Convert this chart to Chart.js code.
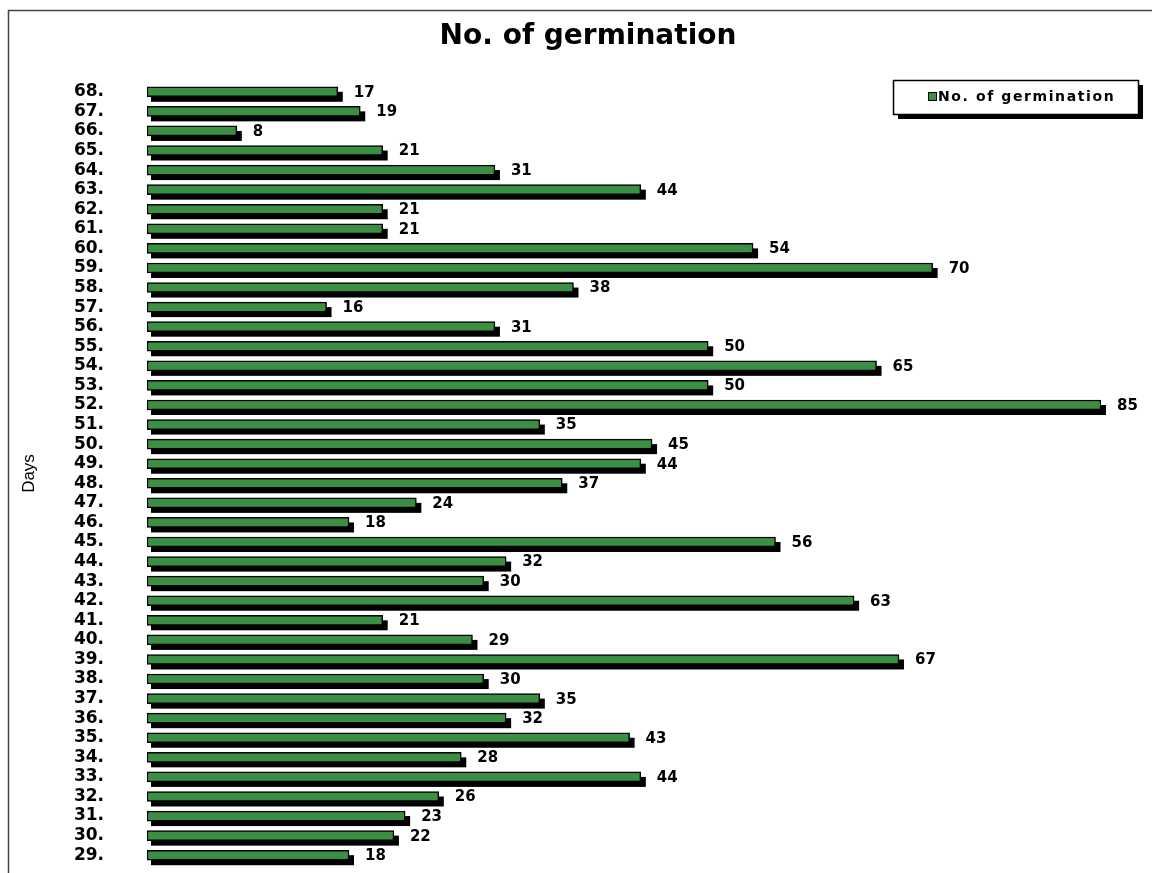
<!DOCTYPE html>
<html>
<head>
  <meta charset="utf-8" />
  <title>No. of germination</title>
  <style>
    body { margin: 0; background: #fff; }
    #wrap { width: 1152px; height: 873px; }
  </style>
</head>
<body>
  <div id="wrap"><canvas id="stage"></canvas></div>

  <script src="https://cdn.jsdelivr.net/npm/chart.js@4.4.0/dist/chart.umd.min.js"></script>
  <script>
    // days, top of the chart first
    const days = [68, 67, 66, 65, 64, 63, 62, 61, 60, 59, 58, 57, 56, 55, 54, 53, 52, 51, 50, 49,
                  48, 47, 46, 45, 44, 43, 42, 41, 40, 39, 38, 37, 36, 35, 34, 33, 32, 31, 30, 29];
    const germination = [17, 19, 8, 21, 31, 44, 21, 21, 54, 70, 38, 16, 31, 50, 65, 50, 85, 35, 45, 44,
                         37, 24, 18, 56, 32, 30, 63, 21, 29, 67, 30, 35, 32, 43, 28, 44, 26, 23, 22, 18];

    const green = '#3a8f42';
    const titleText = 'No. of germination';

    // black drop shadow under each bar, taken from the bar elements
    const shadowPlugin = {
      id: 'barShadow',
      beforeDatasetsDraw(chart) {
        const ctx = chart.ctx;
        ctx.save();
        ctx.fillStyle = '#000';
        chart.getDatasetMeta(0).data.forEach(bar => {
          const h = bar.height;
          ctx.fillRect(bar.base + 4, bar.y - h / 2 + 5, bar.x - bar.base + 1, h);
        });
        ctx.restore();
      }
    };

    // numbers at the end of the bars
    const valuePlugin = {
      id: 'values',
      afterDatasetsDraw(chart) {
        const ctx = chart.ctx;
        const meta = chart.getDatasetMeta(0);
        ctx.save();
        ctx.font = 'bold 15px "DejaVu Sans", sans-serif';
        ctx.fillStyle = '#000';
        ctx.textBaseline = 'middle';
        meta.data.forEach((bar, i) => {
          ctx.fillText(String(chart.data.datasets[0].data[i]), bar.x + 16, bar.y + 1);
        });
        ctx.restore();
      }
    };

    // outer frame, title and the boxed legend
    const framePlugin = {
      id: 'frame',
      beforeDraw(chart) {
        const ctx = chart.ctx;
        ctx.save();
        ctx.strokeStyle = '#444';
        ctx.lineWidth = 1.5;
        ctx.beginPath();
        ctx.moveTo(8.5, 873);
        ctx.lineTo(8.5, 10.5);
        ctx.lineTo(1152, 10.5);
        ctx.stroke();
        ctx.fillStyle = '#000';
        ctx.font = 'bold 28px "DejaVu Sans", sans-serif';
        ctx.textAlign = 'center';
        ctx.textBaseline = 'middle';
        ctx.fillText(titleText, 588, 37);
        ctx.restore();
      },
      afterDraw(chart) {
        const ctx = chart.ctx;
        const x = 893, y = 80, w = 245, h = 34;
        ctx.save();
        ctx.fillStyle = '#000';
        ctx.fillRect(x + 5, y + 5, w, h);
        ctx.fillStyle = '#fff';
        ctx.fillRect(x, y, w, h);
        ctx.strokeStyle = '#000';
        ctx.lineWidth = 1.5;
        ctx.strokeRect(x + 0.5, y + 0.5, w, h);
        ctx.fillStyle = green;
        ctx.fillRect(x + 35, y + 12, 8, 8);
        ctx.lineWidth = 1;
        ctx.strokeRect(x + 35.5, y + 12.5, 8, 8);
        ctx.fillStyle = '#000';
        ctx.font = 'bold 14px "DejaVu Sans", sans-serif';
        ctx.letterSpacing = '1.6px';
        ctx.textBaseline = 'middle';
        ctx.fillText(chart.data.datasets[0].label, x + 45, y + 17);
        ctx.restore();
      }
    };

    new Chart(document.getElementById('stage'), {
      type: 'bar',
      data: {
        labels: days,
        datasets: [{
          label: 'No. of germination',
          data: germination,
          backgroundColor: green,
          borderColor: '#000',
          borderWidth: 1.5,
          borderSkipped: false,
          barThickness: 10
        }]
      },
      options: {
        indexAxis: 'y',
        responsive: true,
        maintainAspectRatio: false,
        animation: false,
        layout: { padding: { top: 82, right: 51, bottom: 8, left: 0 } },
        plugins: {
          legend: { display: false },
          tooltip: { enabled: false },
          title: { display: false }
        },
        scales: {
          x: {
            display: false,
            min: 0,
            max: 85
          },
          y: {
            grid: { display: false, drawTicks: false },
            border: { display: false },
            afterFit(scale) {
              scale.width = 147;
              scale.paddingTop = 0;
              scale.paddingBottom = 0;
            },
            ticks: {
              autoSkip: false,
              padding: 43,
              color: '#000',
              font: { family: '"DejaVu Sans", sans-serif', size: 17, weight: 'bold' },
              callback(value) { return this.getLabelForValue(value) + '.'; }
            },
            title: {
              display: true,
              text: 'Days',
              color: '#000',
              font: { family: '"Liberation Sans", Arial, sans-serif', size: 17 },
              padding: { top: 19 }
            }
          }
        }
      },
      plugins: [shadowPlugin, valuePlugin, framePlugin]
    });
  </script>
</body>
</html>
